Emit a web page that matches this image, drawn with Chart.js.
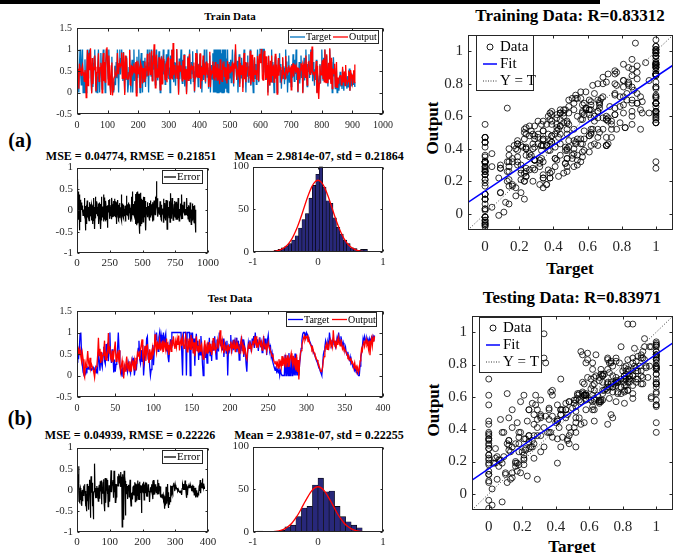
<!DOCTYPE html>
<html><head><meta charset="utf-8">
<script src="https://cdn.jsdelivr.net/npm/chart.js@4/dist/chart.umd.min.js"></script>
<style>
html,body{margin:0;padding:0;background:#fff;}
body{width:690px;height:553px;position:relative;overflow:hidden;font-family:'Liberation Serif','Times New Roman',serif;color:#000;}
canvas{position:absolute;}
.t{position:absolute;white-space:nowrap;font-weight:bold;transform:translate(-50%,-50%);line-height:1;}
</style></head><body>
<div style="position:absolute;left:0;top:0;width:600px;height:4px;background:#000"></div>
<div class="t" style="left:230px;top:16px;font-size:11px">Train Data</div>
<div class="t" style="left:20px;top:140px;font-size:20px">(a)</div>
<div class="t" style="left:131px;top:156px;font-size:12px">MSE = 0.04774, RMSE = 0.21851</div>
<div class="t" style="left:319px;top:156px;font-size:12px">Mean = 2.9814e-07, std = 0.21864</div>
<div class="t" style="left:570px;top:15px;font-size:17px">Training Data: R=0.83312</div>
<div class="t" style="left:432px;top:128px;font-size:17px;transform:translate(-50%,-50%) rotate(-90deg)">Output</div>
<div class="t" style="left:570px;top:268px;font-size:17px">Target</div>
<div class="t" style="left:230px;top:298px;font-size:11px">Test Data</div>
<div class="t" style="left:20px;top:418px;font-size:20px">(b)</div>
<div class="t" style="left:130px;top:435px;font-size:12px">MSE = 0.04939, RMSE = 0.22226</div>
<div class="t" style="left:319px;top:435px;font-size:12px">Mean = 2.9381e-07, std = 0.22255</div>
<div class="t" style="left:572px;top:297px;font-size:17px">Testing Data: R=0.83971</div>
<div class="t" style="left:433px;top:410px;font-size:17px;transform:translate(-50%,-50%) rotate(-90deg)">Output</div>
<div class="t" style="left:572px;top:546px;font-size:17px">Target</div>
<script>
// ---------------- DATA ----------------
const trainStep = 2;
const trainTarget = [
1,0.57,0.33,0,0.62,1,0.43,0.18,0.72,1,
0,0.38,0,0.77,0.22,0,0.53,1,0.34,0.87,
1,0.63,1,0.28,0,0.69,0.13,0.48,0.82,1,
0.46,0,0.37,0,0.64,1,0.39,0,0.57,0.92,
0.42,0.08,0.73,1,0.26,0.53,0,0.74,1,0.88,
0.59,0.32,1,0.44,0.21,0,0.38,0.83,0,0.12,
0,0.24,0.62,0.17,0.71,0.33,1,0.52,0,0.67,
1,0.42,0.79,1,0.54,0.27,0.94,0.48,0,0.72,
0.29,0.84,0.47,0,0.19,0.58,1,0.36,0,0.57,
0.76,0,0.39,1,0.27,0.49,0.68,0,0.83,0.34,
0.53,1,0.31,0,0.67,0.92,0.42,0,0.74,0.23,
0.48,0.81,0.13,0.62,0.37,1,0.52,0,0.69,1,
0.66,0.38,1,0.29,0.86,0.53,1,0.61,0.18,0.77,
1,0.44,0.28,0.72,0.96,0.37,0,0.59,0.84,0.23,
0.56,1,0.42,0.74,0.19,0.52,0.89,0.34,0.63,1,
0.31,0.58,0,0.86,0.41,1,0.54,1,0.24,0.71,
0.44,0.16,0.67,1,0.33,0.57,0,0.79,0.31,0.62,
1,0.39,0.21,0.76,0.47,0.89,0.14,0.61,0.36,0,
0.52,0.84,0.28,0.66,1,0.42,0.19,0.71,0.44,0.96,
0.26,0.61,0,0.48,0.81,0.37,1,0.54,0.14,0.67,
0.41,0.89,0.23,0.62,0,0.47,0.76,0.29,1,0.52,
0.21,0.69,1,0.36,0.58,0.09,0.51,0.86,0,0.42,
0.64,0.31,0.91,0,1,0,1,0,1,0,
1,0,1,0,1,0,0.91,0,1,0,
1,0,1,0.09,0.79,0,1,0,0.49,0.71,
0.34,0.76,0.23,0.58,1,0.47,0.14,0.66,0.86,1,
0.49,0.32,0.74,0,0.41,0.89,0.21,0.62,0.34,0.81,
0.46,0.11,0.64,1,0.32,0.54,0,0.69,0.38,0.86,
0.24,0.61,0.39,1,0.16,0.48,0.76,0.29,0,0.57,
0.81,0.33,0.66,0.19,0.52,1,0.59,0.24,0.77,1,
1,1,1,1,0.48,1,1,1,0.41,0.69,
0.29,0.61,0,0.86,0.38,0.16,0.64,0.46,1,0.24,
0.71,0.39,0,0.56,0.84,0.32,0.59,0,0.36,0.76,
0.47,0.91,0.24,0.66,0.09,0.51,0.81,0.33,0.61,0.19,
0.56,1,0.34,0.72,0,0.39,0.86,0.24,0.58,0.46,
0.14,0.66,0.34,0.89,0.52,0.26,0.76,0.43,1,0.29,
0.56,0,0.39,0.71,0.21,0.48,0.86,0.34,0.62,0,
0.44,0.81,0.28,0.57,1,0.39,0.14,0.66,0.49,0.89,
0.34,0.62,1,0.44,1,0.26,0.71,0.48,0.16,0.54,
0.29,0.76,0,0.44,0,0,0.38,0.66,0.21,0.49,
1,0.56,0.29,0.81,0.38,1,0.61,0.24,0.86,0.43,
0.14,0.67,0.34,1,0.49,0.23,0.71,0,0.44,0.82,
0.39,0.57,0.09,0.28,0.51,0,0.19,0.34,0.04,0.26,
0.48,0.14,0.36,0.08,0.54,0.23,0.04,0.41,0.18,0.46,
0.24,0.09,0.38,0.13,0.29,0.56,0.04,0.23,0.44,0.14,
0.34,0.19,0.48,0.24,0.13];
const trainOutput = [
0.28,0.43,0.55,0.09,0.67,0.56,0.47,0.40,0.57,0.63,
0.47,0.39,0.26,0.52,0.41,-0.12,0.43,0.99,0.16,0.76,
0.92,0.52,1.03,0.40,-0.02,0.80,0.20,0.57,0.53,0.86,
0.60,0.03,0.27,0.47,0.57,0.91,0.26,0.32,0.58,0.69,
0.59,-0.01,0.66,0.92,0.27,0.71,0.24,0.55,1.01,1.05,
0.65,0.18,0.86,0.58,0.21,-0.06,0.62,0.70,-0.07,0.07,
0.32,0.36,0.49,0.42,0.42,0.39,0.92,0.45,0.44,0.67,
0.68,0.61,0.66,0.93,0.33,0.36,0.93,0.40,-0.06,0.86,
0.33,0.80,0.31,0.32,0.32,0.46,0.99,0.18,0.17,0.62,
0.61,0.44,0.48,0.68,0.51,0.45,0.71,-0.08,0.74,0.51,
0.44,0.63,0.57,0.12,0.68,0.62,0.55,0.21,0.57,0.46,
0.26,0.72,0.32,0.52,0.60,0.90,0.40,0.41,0.59,0.93,
0.42,0.43,0.97,0.27,0.60,0.73,1.12,0.64,0.11,0.79,
0.88,0.36,0.49,0.43,0.82,0.49,0.06,0.75,0.79,0.20,
0.71,0.78,0.53,0.47,0.30,0.64,0.68,0.24,0.79,0.81,
0.43,0.39,0.32,0.78,0.34,0.99,0.30,1.15,0.40,0.58,
0.64,0.32,0.50,1.01,0.34,0.63,-0.05,0.72,0.49,0.50,
0.63,0.63,0.27,0.74,0.31,0.87,0.29,0.48,0.55,-0.04,
0.52,0.81,0.28,0.80,0.90,0.33,0.45,0.60,0.54,0.62,
0.35,0.70,0.03,0.34,0.92,0.39,0.91,0.36,0.36,0.65,
0.34,0.91,0.09,0.59,0.27,0.41,0.86,0.41,0.68,0.68,
0.25,0.72,0.56,0.42,0.68,0.13,0.36,0.95,0.12,0.51,
0.43,0.47,0.72,0.32,0.62,0.28,0.71,0.35,0.58,0.29,
0.66,0.31,0.56,0.19,0.77,0.29,0.52,0.26,0.61,0.55,
0.72,0.36,0.59,0.28,0.56,0.21,0.73,0.32,0.66,0.47,
0.46,0.61,0.50,0.61,0.68,0.64,0.21,0.70,0.55,1.12,
0.62,0.29,0.52,0.47,0.41,0.83,0.13,0.69,0.42,0.62,
0.62,0.01,0.60,0.92,0.31,0.71,0.24,0.52,0.58,0.70,
0.41,0.38,0.44,0.97,0.18,0.34,0.88,0.33,0.26,0.38,
0.82,0.42,0.52,0.43,0.29,0.85,0.64,0.26,0.87,0.90,
0.68,1.01,0.78,0.32,0.29,0.86,0.97,0.72,0.29,0.84,
0.33,0.64,-0.07,0.85,0.45,0.17,0.74,0.25,0.86,0.40,
0.58,0.61,0.24,0.43,0.90,0.33,0.65,-0.04,0.42,0.80,
0.39,0.64,0.53,0.59,0.28,0.34,0.82,0.42,0.48,0.43,
0.32,0.85,0.46,0.59,0.44,0.48,0.63,0.49,0.51,0.56,
0.06,0.63,0.51,0.68,0.37,0.54,0.65,0.52,0.60,0.46,
0.58,0.02,0.57,0.42,0.30,0.56,0.68,0.57,0.64,-0.02,
0.62,0.67,0.43,0.35,0.86,0.55,0.17,0.47,0.70,0.74,
0.45,0.42,0.95,0.49,1.07,0.48,0.42,0.49,0.34,0.46,
0.54,0.73,-0.02,0.62,0.09,-0.15,0.22,0.63,0.42,0.41,
0.63,0.75,0.33,0.78,0.25,1.0,0.61,0.23,0.89,0.23,
0.26,0.69,0.32,1.03,0.55,0.20,0.81,0.09,0.54,0.53,
0.44,0.67,0.13,0.20,0.71,0.12,0.35,0.22,0.29,0.37,
0.39,0.40,0.18,0.22,0.60,0.25,0.37,0.49,0.16,0.64,
0.28,0.30,0.22,0.26,0.48,0.46,0.04,0.52,0.43,0.32,
0.22,0.39,0.52,0.23,0.65];

const testStep = 1;
const testTarget = [
0.31,0.54,0.38,0.62,0.97,1,0.47,0.24,0.08,0.02,
0,0.04,0.17,0.12,0.19,0.16,0.21,0.14,0.18,0.13,
0.16,0.19,0.11,0.08,0.17,0.06,0.21,0.12,0.55,0.36,
0.11,0.43,0.28,0.19,0.52,0.67,0.34,0.27,0.73,0.41,
0.76,0.33,0.58,1,0.42,0.29,0.61,0.48,0.07,0.37,
0.09,0.26,0.41,0.63,1,0.58,0.22,0.13,0.04,0.18,
0,0.02,0.21,0.14,0.26,0.17,0.08,0.31,0.23,0.12,
0.05,0.29,0.38,0.24,0.41,0,0.14,0.33,0.22,0.46,
0.63,0.81,0.37,0.28,0.59,0.33,0.71,0,0.26,0.68,
0.47,0.86,0.91,0.38,0.52,0.21,0,0.14,0.49,0.71,
0.24,0.57,0.93,0.82,1,0.74,0.56,0.89,1,0.68,
0.95,0.83,0.62,1,0.71,0.88,0.97,0.56,0.77,0.43,
0.31,0.58,0.84,0.66,1,1,1,1,1,1,
1,1,1,1,1,1,1,1,0,1,
1,1,1,0,1,1,1,1,0,1,
0.63,1,0.52,0.86,0.23,0.74,0.97,0.58,0.81,0.36,
0.71,0.48,0.92,0.64,0.27,0,0.56,0.73,0.41,0.62,
0.29,0.77,0.53,0.88,0.46,0.67,0.34,0.81,0.59,0.72,
0.91,0.62,0.38,0.84,0.71,0.56,1,0.83,0.68,0.77,
0.58,0.86,0.43,0.69,0.74,0.52,0.81,0,0.63,0.57,
0.72,0.94,0.51,0.66,0.83,0.59,0.77,0.62,0.88,0.54,
0.68,0.81,0.36,0.73,0.62,0.91,0.57,0.84,0.43,0.7,
0.58,0.27,0.09,0.51,0.76,0.63,0.82,0.71,0.54,0.86,
0.73,0.92,0.64,1,0.79,0.68,0.84,0.57,0.76,0.89,
0.66,0.81,0.53,0.74,0.92,0.61,0.86,0.72,0.48,0.83,
0.94,0.71,0.58,0.66,0.43,0.52,0.31,0.24,0.18,0.12,
0.21,0.09,0.14,0.06,0.18,0,0.11,0.04,0,0,
0,0,0.48,0,0,0.31,0,0.52,0,0,
0.46,0,0,0.29,0,0.51,0,0.43,0,0.24,
0,0.27,0.44,0.63,0.82,0.96,1,1,0.93,0.87,
1,0.96,0.9,0.86,0.8,0.76,0.71,0.65,0.61,0.55,
0.5,0.46,0.4,0.35,0.31,0.25,0.2,0.16,0.1,0.05,
0,0.21,0.48,0.57,0.66,0.81,0.74,0.62,0.77,0.69,
1,0.83,0.76,0.68,0.79,0.86,0.72,0.81,0.67,0.75,
0.88,0.79,1,0.84,0.73,0.91,0.82,0.68,0.76,0.63,
0.58,0.66,0.52,0.47,0.55,0.41,0.36,0.44,0.29,0.33,
0.24,0.18,0.27,0.12,0.16,0.07,0.1,0.03,0,0,
0.22,0.41,0.53,0.67,0.86,0.78,0.91,0.83,0.76,0.88,
0.82,0.79,0.86,0.74,0.81,0.89,0.84,0.92,0.87,0.93];
const testOutput = [
0.58,0.47,0.61,0.52,0.6,0.44,0.33,0.52,0.38,0.03,
-0.04,0.28,0.19,0.33,0.57,0.31,0.22,0.41,0.18,0.26,
0.2,0.13,0.07,-0.05,0.14,0.21,0.24,0.47,0.88,0.46,
0.62,0.29,0.55,0.38,0.47,0.58,0.81,0.36,0.49,0.34,
0.57,0.99,0.52,0.68,0.41,0.36,0.58,0.31,0.46,0.63,
0.79,0.33,0.45,0.52,0.38,0.59,0.28,0.09,0.22,0.35,
0.18,-0.07,0.21,0.1,0.29,0.44,0.19,0.26,0.11,0.33,
0.23,0.09,0.35,0.28,0.19,0.34,0.13,0.41,0.27,0.52,
0.45,0.56,0.38,0.61,0.72,0.84,0.43,0.31,0.56,0.69,
0.34,0.59,0.73,0.48,0.29,0.61,0.36,0.52,0.38,0.64,
0.52,0.61,0.96,0.67,0.54,0.79,0.62,0.71,0.83,0.58,
0.72,0.64,0.81,0.55,0.77,0.69,0.59,0.86,0.63,0.71,
0.48,0.62,0.73,0.56,0.83,0.68,0.91,0.74,0.62,0.79,
0.66,0.85,0.71,0.93,0.58,0.77,0.84,0.69,0.88,0.74,
0.63,0.81,0.92,0.71,0.55,0.86,0.68,0.79,0.61,0.94,
0.72,0.86,0.51,0.77,0.45,0.66,0.91,0.58,0.69,0.53,
0.84,0.57,0.68,0.73,0.49,0.38,0.63,0.82,0.55,0.67,
0.52,0.69,0.61,0.78,0.56,0.74,0.48,0.63,0.87,0.59,
0.76,0.57,0.64,0.71,0.83,0.69,0.78,1.05,0.73,0.62,
0.81,0.67,0.52,0.74,0.63,0.58,0.71,0.55,0.68,0.61,
0.66,0.79,0.58,0.72,0.64,0.83,0.69,0.54,0.76,0.62,
0.73,0.64,0.52,0.68,0.77,0.86,0.61,0.71,0.49,0.65,
0.61,0.43,0.38,0.56,0.7,0.64,0.79,0.68,0.58,0.73,
0.81,0.72,0.86,0.77,0.91,0.64,0.73,0.68,0.82,0.76,
0.7,0.78,0.59,0.66,0.84,0.71,0.62,0.75,0.57,0.69,
0.78,0.66,0.61,0.57,0.52,0.44,0.49,0.36,0.31,0.27,
0.34,0.23,0.29,0.17,0.38,0.24,0.31,0.19,0.45,0.22,
0.37,0.28,0.41,0.19,0.33,0.47,0.21,0.38,0.3,0.43,
0.52,0.34,0.24,0.46,0.28,0.41,0.12,0.49,0.08,0.36,
-0.09,0.31,0.52,0.58,0.71,0.79,0.86,0.92,0.83,0.9,
0.88,0.91,0.79,0.84,0.76,0.72,0.69,0.61,0.65,0.57,
0.53,0.47,0.44,0.38,0.36,0.29,0.26,0.19,0.13,0.09,
0.12,0.18,0.36,0.44,0.58,0.67,0.73,0.61,0.7,0.64,
0.78,0.83,0.69,0.74,0.66,1.05,0.81,0.73,0.77,0.68,
0.82,0.71,0.88,0.76,0.69,0.84,0.74,0.62,0.67,0.59,
0.61,0.57,0.54,0.49,0.43,0.46,0.38,0.35,0.41,0.29,
0.32,0.26,0.22,0.3,0.17,0.21,0.12,0.19,0.07,0.14,
0.34,0.45,0.62,0.57,0.73,0.81,0.68,0.77,0.84,0.71,
0.76,0.62,0.81,0.47,0.73,0.85,0.69,0.88,0.79,0.91];

const trainHistCenters = [-0.856,-0.803,-0.75,-0.697,-0.644,-0.591,-0.538,-0.485,-0.432,-0.379,-0.326,-0.273,-0.22,-0.167,-0.114,-0.061,-0.008,0.045,0.098,0.151,0.204,0.257,0.31,0.363,0.416,0.469,0.522,0.575,0.628,0.681,0.734];
const trainHistCounts  = [1,1,1,1,2,3,5,7,10,14,19,28,38,45,63,78,91,100,76,60,57,40,29,21,14,10,5,4,2,3,3];
const trainCurveX = [-0.7,-0.65,-0.6,-0.55,-0.5,-0.45,-0.4,-0.35,-0.3,-0.25,-0.2,-0.15,-0.1,-0.05,0,0.05,0.1,0.15,0.2,0.25,0.3,0.35,0.4,0.45,0.5,0.55,0.6,0.65,0.7];
const trainCurveY = [0.5,1.0,1.9,3.6,6.1,10.1,15.7,23.3,32.8,43.7,55.3,66.4,75.7,81.8,84,81.8,75.7,66.4,55.3,43.7,32.8,23.3,15.7,10.1,6.1,3.6,1.9,1.0,0.5];

const testHistCenters = [-0.8925,-0.8075,-0.7225,-0.6375,-0.5525,-0.4675,-0.3825,-0.2975,-0.2125,-0.1275,-0.0425,0.0425,0.1275,0.2125,0.2975,0.3825,0.4675,0.5525,0.6375];
const testHistCounts  = [1,0,0,1,2,6,8,18,28,30,55,63,47,48,30,18,12,8,5];
const testCurveX = [-0.7,-0.65,-0.6,-0.55,-0.5,-0.45,-0.4,-0.35,-0.3,-0.25,-0.2,-0.15,-0.1,-0.05,0,0.05,0.1,0.15,0.2,0.25,0.3,0.35,0.4,0.45,0.5,0.55,0.6,0.65,0.7];
const testCurveY = [0.4,0.7,1.4,2.5,4.2,6.9,10.6,15.6,21.4,28.3,35.4,42.1,47.9,51.7,53,51.7,47.9,42.1,35.4,28.3,21.4,15.6,10.6,6.9,4.2,2.5,1.4,0.7,0.4];

const trainFitX = [-0.1, 1.1], trainFitY = [0.07, 0.914];
const testFitX  = [-0.1, 1.1], testFitY  = [0.084, 0.934];
const identityX = [-0.1, 1.1], identityY = [-0.1, 1.1];

const trainTsTicksX = [0,100,200,300,400,500,600,700,800,900,1000];
const testTsTicksX  = [0,50,100,150,200,250,300,350,400];
const tsTicksY      = [-0.5,0,0.5,1,1.5];
const trainErrTicksX = [0,250,500,750,1000];
const testErrTicksX  = [0,100,200,300,400];
const errTicksY      = [-1,-0.5,0,0.5,1];
const histTicksX = [-1,0,1];
const histTicksY = [0,50,100];
const scatTicks  = [0,0.2,0.4,0.6,0.8,1];

// ---------------- RENDERING ----------------
const INK = '#262626';
Chart.defaults.font.family = "'Liberation Serif','Times New Roman',serif";
Chart.defaults.color = INK;
function fmt(v){ return String(Math.round(v*1000)/1000); }
const xy = (xs, ys) => xs.map((x,i)=>({x:x, y:ys[i]}));
const series = (arr, step) => arr.map((v,i)=>({x:i*step, y:v}));
const errSeries = (t, o, step) => t.map((v,i)=>({x:i*step, y:+(v - o[i]).toFixed(3)}));

const boxPlugin = {
  id:'mbox',
  afterDraw(chart, args, opts){
    const ctx = chart.ctx, a = chart.chartArea;
    ctx.save();
    ctx.strokeStyle = INK; ctx.lineWidth = 1; ctx.setLineDash([]);
    const L = Math.round(a.left)+0.5, R = Math.round(a.right)-0.5, T = Math.round(a.top)+0.5, B = Math.round(a.bottom)-0.5;
    ctx.strokeRect(L, T, R-L, B-T);
    const tl = opts.tick || 3;
    const xs = chart.scales.x, ys = chart.scales.y;
    ctx.beginPath();
    xs.ticks.forEach(t=>{ const p = Math.round(xs.getPixelForValue(t.value))+0.5; ctx.moveTo(p,B); ctx.lineTo(p,B-tl); ctx.moveTo(p,T); ctx.lineTo(p,T+tl); });
    ys.ticks.forEach(t=>{ const p = Math.round(ys.getPixelForValue(t.value))+0.5; ctx.moveTo(L,p); ctx.lineTo(L+tl,p); ctx.moveTo(R,p); ctx.lineTo(R-tl,p); });
    ctx.stroke();
    const lg = opts.legend;
    if (lg) {
      const ox = opts.ox, oy = opts.oy;
      const x0 = lg.x-ox, y0 = lg.y-oy;
      ctx.fillStyle = '#fff'; ctx.fillRect(x0, y0, lg.w, lg.h);
      ctx.strokeStyle = INK; ctx.lineWidth = 1; ctx.strokeRect(x0+0.5, y0+0.5, lg.w-1, lg.h-1);
      ctx.font = lg.font; ctx.textBaseline = 'middle'; ctx.textAlign = 'left';
      lg.items.forEach(it=>{
        const sx = it.x-ox, sy = it.y-oy;
        if (it.kind === 'line' || it.kind === 'dot') {
          ctx.beginPath(); ctx.strokeStyle = it.color; ctx.lineWidth = it.w || 1.5;
          ctx.setLineDash(it.kind === 'dot' ? [1,1.5] : []);
          ctx.moveTo(sx, sy); ctx.lineTo(sx+it.len, sy); ctx.stroke(); ctx.setLineDash([]);
        } else if (it.kind === 'circle') {
          ctx.beginPath(); ctx.strokeStyle = '#000'; ctx.lineWidth = 0.9;
          ctx.arc(sx+it.len/2, sy, 3, 0, Math.PI*2); ctx.stroke();
        }
        ctx.fillStyle = '#000'; ctx.fillText(it.text, sx+it.len+it.gap, sy+0.5);
      });
    }
    ctx.restore();
  }
};

function axis(min, max, ticks, size, pad){
  return {type:'linear', min:min, max:max, grid:{display:false, drawTicks:false}, border:{display:false},
    afterBuildTicks: s => { s.ticks = ticks.map(v=>({value:v})); },
    ticks:{autoSkip:false, maxRotation:0, minRotation:0, padding:pad, font:{size:size}, color:INK, callback: v => fmt(v)}};
}

function mk(box, m, config, extra){
  const c = document.createElement('canvas');
  const w = box[2]-box[0]+m[0]+m[2], h = box[3]-box[1]+m[1]+m[3];
  const ox = box[0]-m[0], oy = box[1]-m[1];
  c.width = w; c.height = h;
  c.style.left = ox+'px'; c.style.top = oy+'px'; c.style.width = w+'px'; c.style.height = h+'px';
  document.body.appendChild(c);
  const o = config.options;
  o.layout = {padding:{left:0, top:m[1], right:m[2], bottom:0}};
  o.scales.y.afterFit = s => { s.width = m[0]; };
  o.scales.x.afterFit = s => { s.height = m[3]; };
  o.plugins = {legend:{display:false}, title:{display:false}, tooltip:{enabled:false}, mbox:Object.assign({ox:ox, oy:oy}, extra||{})};
  o.responsive = false; o.animation = false; o.devicePixelRatio = 1; o.events = [];
  config.plugins = [boxPlugin];
  return new Chart(c, config);
}

// Time series
function tsChart(box, tgt, out, step, xmax, xticks, tColor, legend){
  mk(box, [77, 8, 14, 20], {
    type:'line',
    data:{datasets:[
      {label:'Output', data:series(out, step), borderColor:'#ff0000', borderWidth:1.3, pointRadius:0, order:1, parsing:false},
      {label:'Target', data:series(tgt, step), borderColor:tColor, borderWidth:1.3, pointRadius:0, order:2, parsing:false}
    ]},
    options:{scales:{x:axis(0, xmax, xticks, 10, 5), y:axis(-0.5, 1.5, tsTicksY, 10, 5)}}
  }, {tick:3, legend:legend});
}
tsChart([77,25,384,114], trainTarget, trainOutput, trainStep, 1000, trainTsTicksX, '#0072BD',
  {x:288, y:30, w:91, h:14, font:"10px 'Liberation Serif'", items:[
    {kind:'line', x:290, y:37, len:15, gap:1, color:'#0072BD', w:1.3, text:'Target'},
    {kind:'line', x:333, y:37, len:15, gap:1, color:'#ff0000', w:1.3, text:'Output'}]});
tsChart([77,308,383,397], testTarget, testOutput, testStep, 400, testTsTicksX, '#0000ff',
  {x:286, y:312, w:91, h:15, font:"10px 'Liberation Serif'", items:[
    {kind:'line', x:288, y:319.5, len:15, gap:1, color:'#0000ff', w:1.3, text:'Target'},
    {kind:'line', x:332, y:319.5, len:15, gap:1, color:'#ff0000', w:1.3, text:'Output'}]});

// Error plots
function errChart(box, tgt, out, step, xmax, xticks, legend){
  mk(box, [40, 8, 16, 20], {
    type:'line',
    data:{datasets:[{label:'Error', data:errSeries(tgt, out, step), borderColor:'#000', borderWidth:1.2, pointRadius:0, parsing:false}]},
    options:{scales:{x:axis(0, xmax, xticks, 11, 4), y:axis(-1, 1, errTicksY, 11, 4)}}
  }, {tick:2, legend:legend});
}
errChart([77,165,208,253], trainTarget, trainOutput, trainStep, 1000, trainErrTicksX,
  {x:162, y:170, w:41, h:14, font:"11px 'Liberation Serif'", items:[{kind:'line', x:164, y:177, len:12, gap:1, color:'#000', w:1.3, text:'Error'}]});
errChart([77,445,208,532], testTarget, testOutput, testStep, 400, testErrTicksX,
  {x:162, y:450, w:41, h:14, font:"11px 'Liberation Serif'", items:[{kind:'line', x:164, y:457, len:12, gap:1, color:'#000', w:1.3, text:'Error'}]});

// Histograms
function histChart(box, centers, counts, cx, cy){
  mk(box, [30, 8, 14, 20], {
    type:'bar',
    data:{datasets:[
      {type:'line', data:xy(cx, cy), borderColor:'#ff0000', borderWidth:1.3, pointRadius:0, tension:0.3, order:1, parsing:false},
      {type:'bar', data:xy(centers, counts), backgroundColor:'#28287a', borderColor:'#000', borderWidth:0.6, barPercentage:1, categoryPercentage:1, order:2, parsing:false}
    ]},
    options:{scales:{x:Object.assign(axis(-1, 1, histTicksX, 11, 4), {offset:false}), y:axis(0, 100, histTicksY, 11, 4)}}
  }, {tick:2});
}
histChart([253,164,383,252], trainHistCenters, trainHistCounts, trainCurveX, trainCurveY);
histChart([253,444,383,532], testHistCenters, testHistCounts, testCurveX, testCurveY);

// Scatter
function scatChart(box, tgt, out, fx, fy, legend){
  mk(box, [30, 8, 12, 24], {
    type:'scatter',
    data:{datasets:[
      {label:'Fit', data:xy(fx, fy), showLine:true, borderColor:'#0000ff', borderWidth:1.5, pointRadius:0, order:1, parsing:false},
      {label:'Y = T', data:xy(identityX, identityY), showLine:true, borderColor:'#000', borderWidth:0.8, borderDash:[1,2], pointRadius:0, order:2, parsing:false},
      {label:'Data', data:xy(tgt, out), pointStyle:'circle', pointRadius:3, borderColor:'#000', borderWidth:0.8, backgroundColor:'rgba(0,0,0,0)', order:3, parsing:false}
    ]},
    options:{scales:{x:axis(-0.1, 1.1, scatTicks, 15, 8), y:axis(-0.1, 1.1, scatTicks, 15, 5)}}
  }, {tick:3, legend:legend});
}
scatChart([468,29,673,230], trainTarget, trainOutput, trainFitX, trainFitY,
  {x:476, y:35, w:58, h:56, font:"15px 'Liberation Serif'", items:[
    {kind:'circle', x:483, y:47, len:14, gap:3, text:'Data'},
    {kind:'line', x:483, y:64, len:14, gap:3, color:'#0000ff', w:1.5, text:'Fit'},
    {kind:'dot', x:483, y:81, len:14, gap:3, color:'#000', w:0.8, text:'Y = T'}]});
scatChart([472,310,673,510], testTarget, testOutput, testFitX, testFitY,
  {x:479, y:317, w:63, h:56, font:"15px 'Liberation Serif'", items:[
    {kind:'circle', x:486, y:328, len:14, gap:3, text:'Data'},
    {kind:'line', x:486, y:345, len:14, gap:3, color:'#0000ff', w:1.5, text:'Fit'},
    {kind:'dot', x:486, y:362, len:14, gap:3, color:'#000', w:0.8, text:'Y = T'}]});
</script>
</body></html>
